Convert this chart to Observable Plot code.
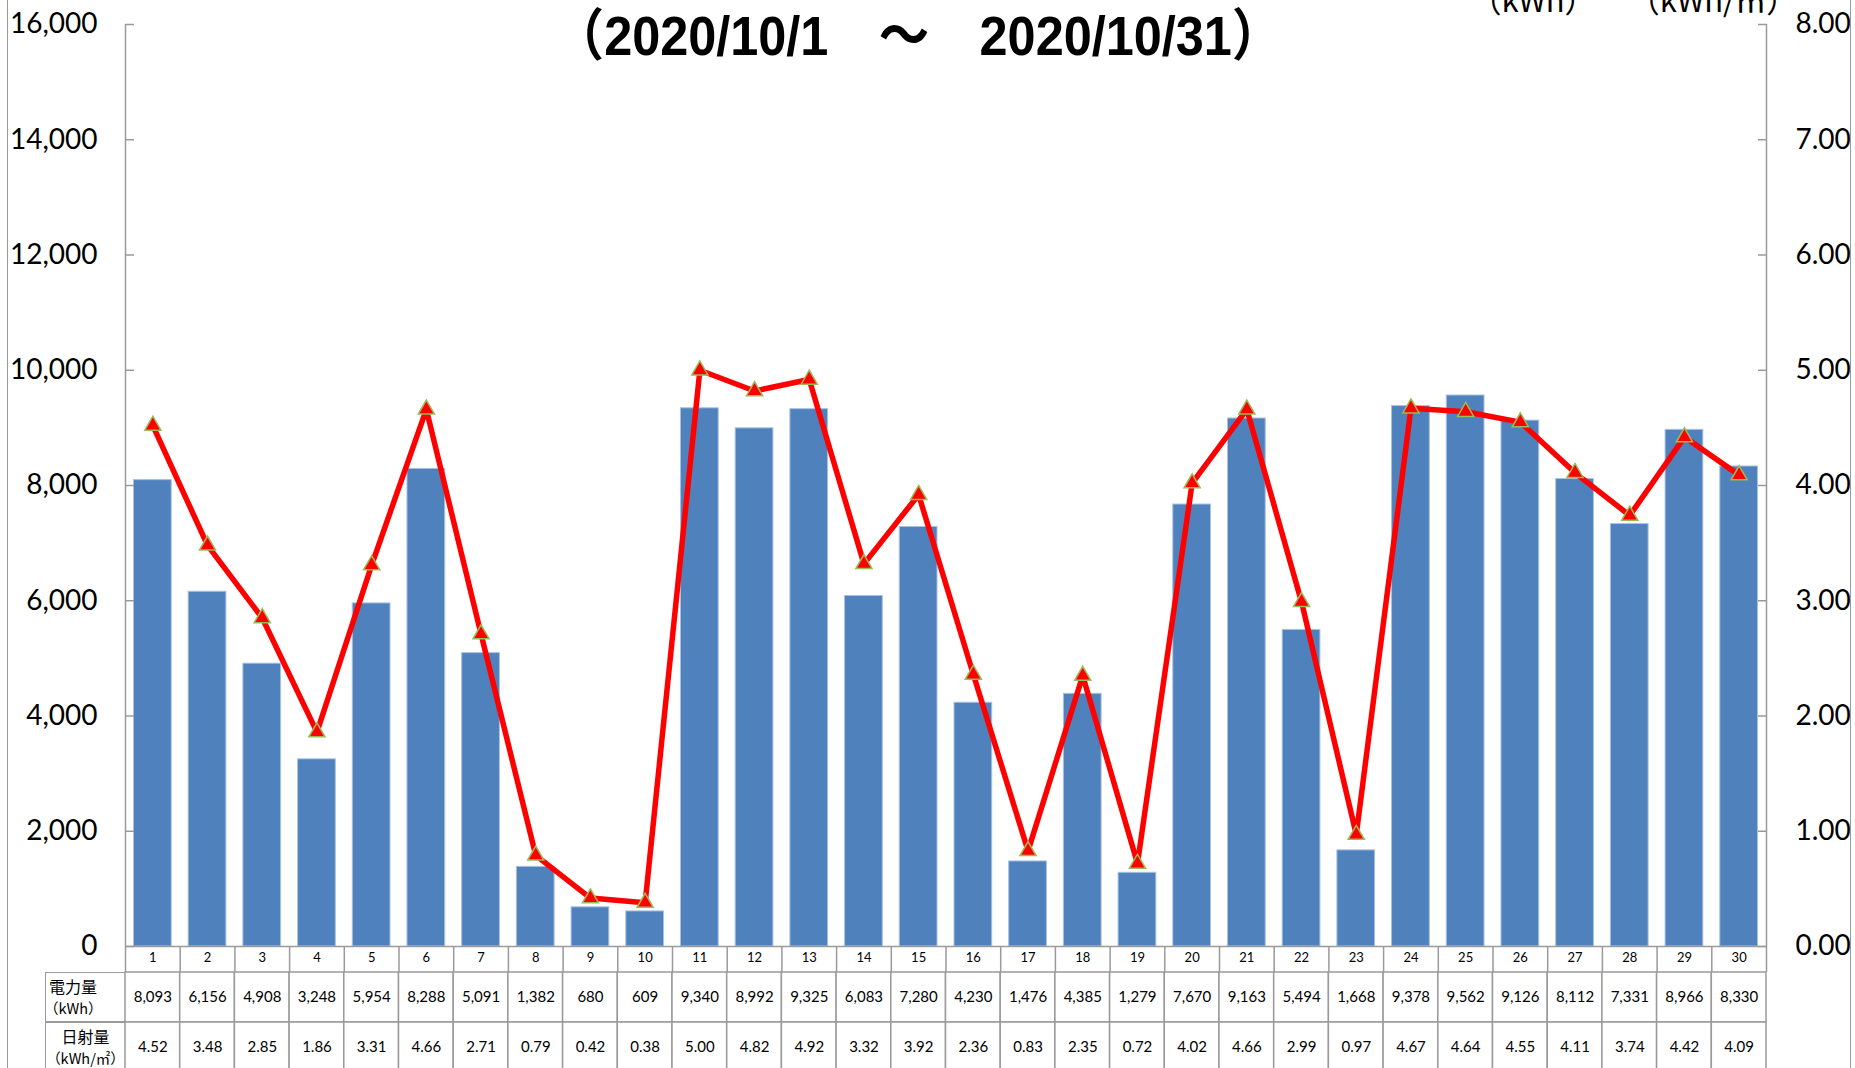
<!DOCTYPE html>
<html>
<head>
<meta charset="utf-8">
<script src="https://cdn.jsdelivr.net/npm/d3@7"></script>
<script src="https://cdn.jsdelivr.net/npm/@observablehq/plot@0.6"></script>
<style>
html, body { margin: 0; padding: 0; background: #fff; width: 1855px; height: 1068px; overflow: hidden; }
#wrap { position: relative; width: 1855px; height: 1068px; font-family: Lato, "Noto Sans CJK JP", sans-serif; }
#wrap > svg { position: absolute; left: 0; }
.title { position: absolute; left: 0; width: 1836px; top: 8px; text-align: center; font-family: "Liberation Sans", "Noto Sans CJK JP", sans-serif; font-weight: bold; font-size: 56px; line-height: 56px; color: #000; white-space: pre; transform: scaleX(0.9); transform-origin: 918px 0; }
.unit { position: absolute; width: 240px; text-align: center; top: -17px; font-family: "Noto Sans CJK JP", sans-serif; font-size: 31px; line-height: 31px; color: #000; white-space: pre; }
.vline { position: absolute; top: 0; height: 1068px; width: 0; border-left: 1.5px solid #9a9a9a; }
.rowlab { position: absolute; left: 45px; width: 80px; height: 50px; box-sizing: border-box; border: 1.5px solid #9a9a9a; border-right: none; font-family: "Noto Sans CJK JP", sans-serif; color: #000; padding-top: 2px; }
.rowlab .a { font-size: 16px; line-height: 22px; height: 22px; }
.rowlab .b { font-size: 14.5px; line-height: 22px; height: 22px; }
</style>
</head>
<body>
<div id="wrap"></div>
<script>
// ---- data ----
const days = [1,2,3,4,5,6,7,8,9,10,11,12,13,14,15,16,17,18,19,20,21,22,23,24,25,26,27,28,29,30];
const power = [8093,6156,4908,3248,5954,8288,5091,1382,680,609,9340,8992,9325,6083,7280,4230,1476,4385,1279,7670,9163,5494,1668,9378,9562,9126,8112,7331,8966,8330];
const irradiance = [4.52,3.48,2.85,1.86,3.31,4.66,2.71,0.79,0.42,0.38,5.00,4.82,4.92,3.32,3.92,2.36,0.83,2.35,0.72,4.02,4.66,2.99,0.97,4.67,4.64,4.55,4.11,3.74,4.42,4.09];
const leftTicks = [0,2000,4000,6000,8000,10000,12000,14000,16000];
const rightTicks = [0,1,2,3,4,5,6,7,8];
const titleText = "（2020/10/1　～　2020/10/31）";
const unitLeft = "（kWh）";
const unitRight = "（kWh/㎡）";
const rowLabels = [["電力量", "（kWh）"], ["日射量", "（kWh/㎡）"]];

// ---- derived ----
const leftMax = leftTicks[leftTicks.length - 1];
const rightMax = rightTicks[rightTicks.length - 1];
const ratio = leftMax / rightMax;
const rows = days.map((d, i) => ({day: d, power: power[i], irr: irradiance[i]}));
const xDomain = [days[0] - 0.5, days[days.length - 1] + 0.5];
const edges = [...days.map(d => d - 0.5), days[days.length - 1] + 0.5];
const cells = rows.flatMap(d => [
  {day: d.day, row: "power", text: d3.format(",")(d.power)},
  {day: d.day, row: "irr", text: d.irr.toFixed(2)}
]);

const W = 1855, ML = 125, MR = 89;
const grid = "#9a9a9a";
const half = 0.345;

const main = Plot.plot({
  width: W, height: 972,
  marginLeft: ML, marginRight: MR, marginTop: 24, marginBottom: 26,
  style: {background: "transparent", overflow: "visible", fontFamily: "Lato, sans-serif", color: "#000"},
  x: {domain: xDomain, axis: null},
  y: {domain: [0, leftMax], axis: null},
  marks: [
    Plot.rectY(rows, {x1: d => d.day - half, x2: d => d.day + half, y1: 0, y2: "power", fill: "#4F81BD", stroke: "#A9C1E2", strokeWidth: 1}),
    Plot.ruleX([xDomain[0]], {stroke: grid, strokeWidth: 1.5}),
    Plot.ruleX([xDomain[1]], {stroke: grid, strokeWidth: 1.5}),
    Plot.axisY({anchor: "left", ticks: leftTicks, tickSize: -9, fill: "none", stroke: grid, strokeWidth: 1.5, label: null}),
    Plot.axisY({anchor: "left", ticks: leftTicks, tickSize: 0, tickPadding: 28, tickFormat: d3.format(","), fontSize: 28, label: null}),
    Plot.axisY({anchor: "right", ticks: rightTicks.map(v => v * ratio), tickSize: -9, fill: "none", stroke: grid, strokeWidth: 1.5, label: null}),
    Plot.axisY({anchor: "right", ticks: rightTicks.map(v => v * ratio), tickSize: 0, tickPadding: 29, tickFormat: d => (d / ratio).toFixed(2), fontSize: 28, label: null}),
    Plot.axisX({ticks: edges, tickSize: 26, fill: "none", stroke: grid, strokeWidth: 1.5, label: null}),
    Plot.axisX({ticks: days, tickSize: 0, tickPadding: 6, fontSize: 13, label: null}),
    Plot.ruleY([0], {stroke: grid, strokeWidth: 1.5}),
    Plot.line(rows, {x: "day", y: d => d.irr * ratio, stroke: "#FF0000", strokeWidth: 5.5}),
    Plot.dot(rows, {x: "day", y: d => d.irr * ratio, symbol: "triangle", r: 6, fill: "#FF0000", stroke: "#9BBB59", strokeWidth: 1.5})
  ]
});

const table = Plot.plot({
  width: W, height: 100,
  marginLeft: ML, marginRight: MR, marginTop: 0, marginBottom: 0,
  style: {background: "transparent", overflow: "visible", fontFamily: "Lato, sans-serif", color: "#000"},
  x: {domain: xDomain, axis: null},
  y: {domain: ["power", "irr"], axis: null, padding: 0},
  marks: [
    Plot.barX(cells, {x1: d => d.day - 0.5, x2: d => d.day + 0.5, y: "row", fill: "white", stroke: grid, strokeWidth: 1.5}),
    Plot.text(cells, {x: "day", y: "row", text: "text", fontSize: 15, fill: "#000"})
  ]
});

const wrap = document.getElementById("wrap");
main.style.top = "0px";
table.style.top = "972px";
wrap.appendChild(main);
wrap.appendChild(table);

function div(cls, text, css) {
  const e = document.createElement("div");
  e.className = cls;
  if (text != null) e.textContent = text;
  Object.assign(e.style, css || {});
  wrap.appendChild(e);
  return e;
}
div("vline", null, {left: "7px"});
div("vline", null, {left: "1850px"});
div("title", titleText);
div("unit", unitLeft, {left: "1413px"});
div("unit", unitRight, {left: "1593px"});

rowLabels.forEach((lab, i) => {
  const e = div("rowlab", null, {top: (972 + i * 50) + "px", textAlign: i === 0 ? "left" : "center", paddingLeft: i === 0 ? "3px" : "0px"});
  const a = document.createElement("div"); a.className = "a"; a.textContent = lab[0];
  const b = document.createElement("div"); b.className = "b"; b.textContent = lab[1];
  if (i === 0) b.style.marginLeft = "-5px";
  e.appendChild(a); e.appendChild(b);
});
</script>
</body>
</html>
